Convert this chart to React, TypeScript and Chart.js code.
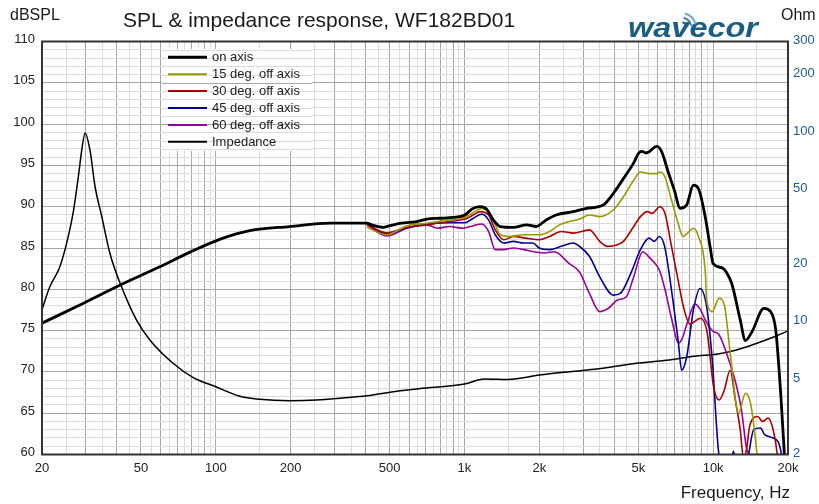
import React, { useEffect, useRef } from 'react';
import { Chart, registerables } from 'chart.js';

Chart.register(...registerables);

// ---------- DATA ----------
const onAxisFreq = [20, 28.4, 41.1, 59.2, 78.8, 104.9, 137, 198, 289, 405, 424, 471, 501, 559, 642, 706, 797, 901, 1004, 1069, 1154, 1228, 1306, 1392, 1571, 1778, 1942, 2131, 2338, 2738, 3098, 3614, 3966, 4357, 4791, 5020, 5180, 5370, 5560, 5917, 6200, 6595, 7015, 7348, 7824, 8327, 8727, 9290, 9739, 10000, 10870, 11340, 11880, 12850, 13480, 14350, 15990, 17030, 17850, 18730, 19330, 20000];
const onAxisDb = [75.9, 78.1, 80.5, 82.7, 84.5, 86.1, 87.1, 87.6, 88.0, 88.0, 87.8, 87.5, 87.7, 88.0, 88.2, 88.5, 88.6, 88.7, 89.0, 89.7, 90.0, 89.7, 88.4, 87.6, 87.5, 87.8, 87.6, 88.4, 89.0, 89.4, 89.8, 90.2, 91.6, 93.4, 95.3, 96.5, 96.7, 96.5, 96.7, 97.3, 96.7, 94.2, 91.8, 89.8, 90.2, 92.6, 92.2, 88.8, 85.0, 83.1, 82.6, 82.0, 80.7, 76.3, 73.8, 74.9, 77.7, 77.3, 75.1, 67.0, 60.2, 55];

const deg15Freq = [405, 486, 588, 706, 870, 983, 1085, 1173, 1250, 1330, 1392, 1525, 1727, 2000, 2200, 2410, 2640, 2900, 3180, 3500, 3966, 4357, 4791, 5100, 5525, 5917, 6100, 6400, 6800, 7230, 7560, 7880, 8327, 8730, 9290, 9416, 9920, 10560, 11090, 11760, 12650, 13480, 14140, 15000, 15500];
const deg15Db = [87.5, 86.6, 87.7, 88.0, 88.4, 88.6, 89.3, 89.8, 89.4, 87.8, 86.6, 86.4, 86.6, 86.6, 87.0, 87.8, 88.2, 88.5, 89.0, 88.8, 89.6, 91.2, 93.2, 94.2, 94.0, 94.0, 94.2, 93.6, 90.8, 88.0, 86.4, 86.8, 87.4, 86.4, 82.3, 78.7, 77.3, 78.9, 78.1, 71.8, 65.0, 67.4, 66.2, 60.1, 55];

const deg30Freq = [405, 486, 588, 706, 870, 1004, 1085, 1154, 1250, 1330, 1440, 1571, 1760, 2000, 2200, 2450, 2740, 3180, 3500, 3760, 4130, 4357, 4791, 5100, 5430, 5690, 6100, 6400, 6800, 7230, 7578, 8060, 8900, 9460, 10040, 10560, 11090, 11700, 12280, 12850, 13250, 13600, 14060, 15100, 15800, 16620, 17430, 18100, 18600];
const deg30Db = [87.8, 86.85, 87.5, 87.8, 88.2, 88.5, 89.0, 89.4, 89.0, 87.2, 86.0, 86.4, 86.2, 86.0, 86.4, 87.0, 86.8, 87.2, 85.8, 85.2, 85.4, 85.8, 87.6, 88.8, 89.4, 89.2, 90.0, 89.2, 85.2, 81.1, 78.0, 75.8, 76.5, 74.8, 68.2, 66.6, 67.8, 70.2, 66.6, 63.0, 59.5, 60.5, 63.6, 64.6, 64.0, 64.4, 63.0, 60.0, 55];

const deg45Freq = [405, 486, 588, 706, 870, 1004, 1085, 1173, 1250, 1330, 1440, 1571, 1727, 1880, 2000, 2200, 2450, 2740, 2900, 3180, 3500, 3966, 4230, 4660, 5100, 5525, 5800, 6080, 6380, 6800, 7250, 7470, 7824, 8330, 8850, 9416, 9920, 10500, 11200, 11800, 12080, 12400, 13300, 13800, 14570, 15500, 16120, 17430, 18730, 19300];
const deg45Db = [88.0, 86.7, 87.45, 87.9, 88.06, 88.06, 88.6, 89.1, 88.4, 86.6, 85.6, 85.8, 85.6, 85.6, 85.0, 84.8, 85.2, 85.6, 85.2, 84.0, 81.5, 79.3, 79.5, 81.9, 84.8, 86.2, 85.8, 86.4, 85.2, 79.9, 73.5, 70.2, 71.8, 77.5, 80.1, 77.9, 71.4, 60.5, 57, 59, 60.4, 58, 57, 59.5, 63.0, 63.2, 62.4, 62.0, 60.4, 55];

const deg60Freq = [405, 486, 588, 706, 780, 870, 983, 1085, 1173, 1250, 1330, 1440, 1571, 1727, 1900, 2100, 2300, 2640, 2900, 3180, 3500, 3790, 4130, 4480, 4790, 5210, 5560, 6080, 6400, 6800, 7250, 7500, 7824, 8460, 8900, 9290, 9920, 10560, 11340, 12420, 13000, 13600, 14000, 20000];
const deg60Db = [87.8, 86.45, 87.4, 87.8, 87.4, 87.6, 87.4, 87.7, 87.9, 87.0, 84.8, 84.8, 85.0, 84.8, 84.55, 84.4, 84.55, 83.1, 82.1, 79.5, 77.3, 77.7, 78.7, 79.1, 81.5, 84.55, 83.8, 82.3, 80.0, 76.5, 73.5, 74.0, 75.7, 78.2, 77.5, 76.3, 75.0, 74.5, 72.2, 68.3, 65.4, 60.9, 60.0, 60.0];

const impedanceFreq = [20, 21.5, 23.6, 25.5, 26.8, 28, 28.9, 29.8, 31.2, 32.7, 34.8, 37.5, 41.2, 48, 54.4, 67.3, 80.8, 100, 124, 150, 198, 254, 324, 405, 550, 700, 1000, 1200, 1500, 2000, 2650, 3600, 4900, 6500, 8600, 10300, 12400, 15000, 17400, 20000];
const impedanceOhm = [11.6, 15.3, 19.5, 28.1, 38.8, 58.2, 80.4, 99, 80, 51.5, 35.8, 23.0, 16.0, 10.2, 8.0, 6.05, 5.1, 4.55, 4.07, 3.91, 3.84, 3.87, 3.97, 4.08, 4.34, 4.48, 4.7, 5.0, 4.97, 5.24, 5.46, 5.69, 6.05, 6.28, 6.61, 6.74, 7.10, 7.71, 8.29, 8.95];

const seriesNames = ['on axis', '15 deg. off axis', '30 deg. off axis', '45 deg. off axis', '60 deg. off axis', 'Impedance'];
const seriesColors = ['#000000', '#999900', '#aa0000', '#000099', '#990099', '#000000'];

const xTickLabels: Record<string, string> = {
  '20': '20', '50': '50', '100': '100', '200': '200', '500': '500',
  '1000': '1k', '2000': '2k', '5000': '5k', '10000': '10k', '20000': '20k',
};
const dbTickLabels = [60, 65, 70, 75, 80, 85, 90, 95, 100, 105, 110];
const ohmTicks = [2, 5, 10, 20, 50, 100, 200, 300];

const titleText = 'SPL & impedance response, WF182BD01';

// ---------- helpers ----------
const FONT = '"Liberation Sans", Arial, Helvetica, sans-serif';
const MAJOR = '#a6a6a6';
const MINOR = '#dcdcdc';

const xGridValues: number[] = (() => {
  const out: number[] = [];
  for (const d of [10, 100, 1000, 10000]) {
    for (let k = 2; k <= 19; k++) {
      const v = (k / 2) * d;
      if (v >= 20 && v <= 20000) out.push(v);
    }
  }
  out.push(20000);
  return Array.from(new Set(out)).sort((a, b) => a - b);
})();

const dbGridValues: number[] = (() => {
  const out: number[] = [];
  for (let v = dbTickLabels[0]; v <= dbTickLabels[dbTickLabels.length - 1]; v++) out.push(v);
  return out;
})();

function isMajorX(v: number | undefined) {
  if (!v) return false;
  const p = Math.pow(10, Math.floor(Math.log10(v) + 1e-9));
  const m = v / p;
  return Math.abs(m - Math.round(m)) < 1e-6;
}

function pts(f: number[], v: number[]) {
  return f.map((x, i) => ({ x, y: v[i] }));
}

const LEG_BOX = { x: 162, y: 49, w: 150, h: 102 };

const decorPlugin = {
  id: 'decor',
  beforeDatasetsDraw(chart: any) {
    const ctx = chart.ctx as CanvasRenderingContext2D;
    const ys = chart.scales.y;
    ctx.save();
    ctx.fillStyle = '#ffffff';
    ctx.fillRect(LEG_BOX.x, LEG_BOX.y, LEG_BOX.w, LEG_BOX.h);
    // horizontal grid lines remain visible through the legend
    ctx.lineWidth = 1;
    dbGridValues.forEach((v) => {
      const py = Math.round(ys.getPixelForValue(v)) + 0.5;
      if (py > LEG_BOX.y && py < LEG_BOX.y + LEG_BOX.h) {
        ctx.strokeStyle = v % 5 === 0 ? MAJOR : MINOR;
        ctx.beginPath();
        ctx.moveTo(LEG_BOX.x, py);
        ctx.lineTo(LEG_BOX.x + LEG_BOX.w, py);
        ctx.stroke();
      }
    });
    ctx.restore();
  },
  afterDraw(chart: any) {
    const ctx = chart.ctx as CanvasRenderingContext2D;
    const a = chart.chartArea;
    ctx.save();
    // frame
    ctx.strokeStyle = '#333333';
    ctx.lineWidth = 2;
    ctx.strokeRect(a.left, a.top, a.right - a.left, a.bottom - a.top);

    // titles
    ctx.fillStyle = '#1a1a1a';
    ctx.textBaseline = 'alphabetic';
    ctx.textAlign = 'left';
    ctx.font = `21px ${FONT}`;
    ctx.fillText(titleText, 123, 27);
    ctx.font = `16px ${FONT}`;
    ctx.fillText('dBSPL', 10, 20);
    ctx.fillText('Ohm', 781, 20);
    ctx.font = `17px ${FONT}`;
    ctx.textAlign = 'right';
    ctx.fillText('Frequency, Hz', 790, 498);

    // legend
    ctx.textAlign = 'left';
    ctx.textBaseline = 'middle';
    ctx.font = `13px ${FONT}`;
    seriesNames.forEach((name, i) => {
      const y = 57.3 + i * 16.9;
      ctx.strokeStyle = seriesColors[i];
      ctx.lineWidth = i === 0 ? 3 : 2;
      ctx.beginPath();
      ctx.moveTo(168, y);
      ctx.lineTo(207, y);
      ctx.stroke();
      ctx.fillStyle = '#1a1a1a';
      ctx.fillText(name, 212, y + 0.5);
    });

    // logo
    ctx.fillStyle = '#1a5e82';
    ctx.textBaseline = 'alphabetic';
    ctx.font = `italic bold 27px ${FONT}`;
    const w = ctx.measureText('wavecor').width;
    ctx.save();
    ctx.translate(628, 37);
    ctx.scale(130 / w, 1);
    ctx.fillText('wavecor', 0, 0);
    ctx.restore();
    const arcs = [
      { r: 6, c: '#1a5e82' },
      { r: 10.5, c: '#3f7fa2' },
      { r: 15, c: '#7fa9c2' },
    ];
    arcs.forEach(({ r, c }) => {
      ctx.strokeStyle = c;
      ctx.lineWidth = 2;
      ctx.beginPath();
      ctx.arc(681, 28, r, -Math.PI * 0.42, -Math.PI * 0.08);
      ctx.stroke();
    });
    ctx.restore();
  },
};

export default function App() {
  const ref = useRef<HTMLCanvasElement | null>(null);

  useEffect(() => {
    if (!ref.current) return;
    const freqData = [
      pts(onAxisFreq, onAxisDb),
      pts(deg15Freq, deg15Db),
      pts(deg30Freq, deg30Db),
      pts(deg45Freq, deg45Db),
      pts(deg60Freq, deg60Db),
    ];
    const widths = [2.8, 1.6, 1.6, 1.6, 1.6];
    const datasets: any[] = freqData.map((d, i) => ({
      label: seriesNames[i],
      data: d,
      borderColor: seriesColors[i],
      borderWidth: widths[i],
      pointRadius: 0,
      yAxisID: 'y',
      cubicInterpolationMode: 'monotone',
    }));
    datasets.push({
      label: seriesNames[5],
      data: pts(impedanceFreq, impedanceOhm),
      borderColor: seriesColors[5],
      borderWidth: 1.5,
      pointRadius: 0,
      yAxisID: 'y2',
      cubicInterpolationMode: 'monotone',
    });

    const chart = new Chart(ref.current, {
      type: 'line',
      data: { datasets },
      options: {
        responsive: false,
        animation: false,
        devicePixelRatio: 1,
        events: [],
        layout: { padding: { top: 41.5, left: 0, right: 0, bottom: 0 } },
        plugins: {
          legend: { display: false },
          tooltip: { enabled: false },
          title: { display: false },
        },
        scales: {
          x: {
            type: 'logarithmic',
            min: 20,
            max: 20000,
            position: 'bottom',
            afterBuildTicks: (s: any) => {
              s.ticks = xGridValues.map((v) => ({ value: v }));
            },
            afterFit: (s: any) => {
              s.height = 49.5;
            },
            border: { display: false },
            grid: {
              color: (c: any) => (isMajorX(c.tick && c.tick.value) ? MAJOR : MINOR),
              lineWidth: 1,
              drawTicks: false,
            },
            ticks: {
              autoSkip: false,
              maxRotation: 0,
              minRotation: 0,
              padding: 6,
              color: '#222222',
              font: { size: 13, family: FONT },
              callback: (v: any) => xTickLabels[String(v)] ?? '',
            },
          },
          y: {
            type: 'linear',
            min: 60,
            max: 110,
            position: 'left',
            afterBuildTicks: (s: any) => {
              s.ticks = dbGridValues.map((v) => ({ value: v }));
            },
            afterFit: (s: any) => {
              s.width = 42;
            },
            border: { display: false },
            grid: {
              color: (c: any) => (c.tick && c.tick.value % 5 === 0 ? MAJOR : MINOR),
              lineWidth: 1,
              drawTicks: false,
            },
            ticks: {
              autoSkip: false,
              padding: 7,
              labelOffset: -2,
              color: '#222222',
              font: { size: 13, family: FONT },
              callback: (v: any) => (dbTickLabels.includes(Number(v)) ? String(v) : ''),
            },
          },
          y2: {
            type: 'logarithmic',
            min: 2,
            max: 300,
            position: 'right',
            afterBuildTicks: (s: any) => {
              s.ticks = ohmTicks.map((v) => ({ value: v }));
            },
            afterFit: (s: any) => {
              s.width = 31;
            },
            border: { display: false },
            grid: { drawOnChartArea: false, drawTicks: false },
            ticks: {
              autoSkip: false,
              padding: 5,
              labelOffset: -1,
              color: '#1e5a96',
              font: { size: 13, family: FONT },
              callback: (v: any) => String(v),
            },
          },
        },
      } as any,
      plugins: [decorPlugin],
    });
    return () => chart.destroy();
  }, []);

  return (
    <div style={{ position: 'absolute', left: 0, top: 0, width: 819, height: 504, background: '#ffffff' }}>
      <canvas ref={ref} width={819} height={504} style={{ display: 'block' }} />
    </div>
  );
}
